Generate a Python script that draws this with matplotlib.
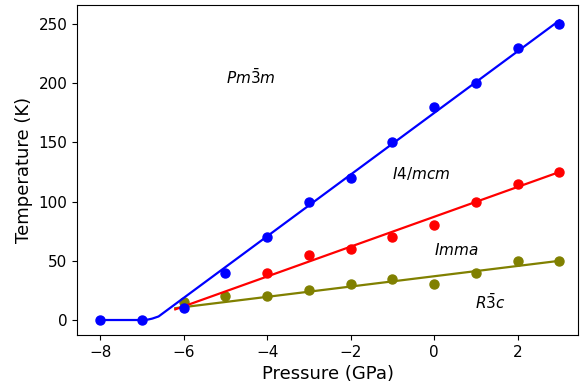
import numpy as np
import matplotlib
matplotlib.use('Agg')
import matplotlib.pyplot as plt

pressure = [-8, -7, -6, -5, -4, -3, -2, -1, 0, 1, 2, 3]
t_cubic = [0, 0, 10, 40, 70, 100, 120, 150, 180, 200, 230, 250]

p_tet = [-4, -3, -2, -1, 0, 1, 2, 3]
t_tet = [40, 55, 60, 70, 80, 100, 115, 125]

p_rh = [-6, -5, -4, -3, -2, -1, 0, 1, 2, 3]
t_rh = [15, 20, 20, 25, 30, 35, 30, 40, 50, 50]

# fitted boundaries
cubic_fit_x = [-8, -7, -6.85, -6.75, -6.6, 3]
cubic_fit_y = [0, 0, 0.4, 1.2, 3, 253]
tet_fit_x = [-6.2, 3]
tet_fit_y = [9, 125]
rh_fit_x = [-6.2, 3]
rh_fit_y = [10, 50]

fig = plt.figure(figsize=(5.8, 3.86), dpi=100)
ax = fig.add_axes([0.133, 0.132, 0.864, 0.855])

ax.plot(rh_fit_x, rh_fit_y, color='olive', lw=1.6)
ax.plot(p_rh, t_rh, 'o', color='olive', ms=6.5)
ax.plot(tet_fit_x, tet_fit_y, color='red', lw=1.6)
ax.plot(p_tet, t_tet, 'o', color='red', ms=6.5)
ax.plot(cubic_fit_x, cubic_fit_y, color='blue', lw=1.6)
ax.plot(pressure, t_cubic, 'o', color='blue', ms=6.5)

ax.text(-4.4, 205, r'$Pm\bar{3}m$', ha='center', va='center', fontsize=11)
ax.text(-0.32, 124, r'$I4/mcm$', ha='center', va='center', fontsize=11)
ax.text(0.52, 59, r'$Imma$', ha='center', va='center', fontsize=11)
ax.text(1.35, 15, r'$R\bar{3}c$', ha='center', va='center', fontsize=11)

ax.set_xlim(-8.55, 3.45)
ax.set_ylim(-12.7, 266)
ax.set_xticks([-8, -6, -4, -2, 0, 2])
ax.set_yticks([0, 50, 100, 150, 200, 250])
ax.tick_params(labelsize=11)
ax.set_xlabel('Pressure (GPa)', fontsize=13)
ax.set_ylabel('Temperature (K)', fontsize=13)

fig.savefig('out.png', dpi=100)
